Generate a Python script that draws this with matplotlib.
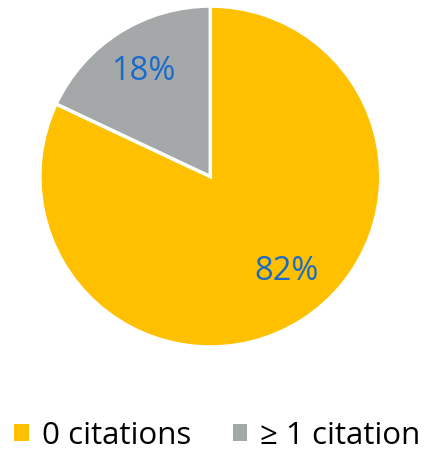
import matplotlib.pyplot as plt
from matplotlib.patches import Patch

labels = ["0 citations", "\u2265 1 citation"]
shares = [82, 18]
colors = ["#FFC000", "#A5A8A8"]
label_color = "#1A6BC9"

plt.rcParams["font.family"] = ["Open Sans", "DejaVu Sans"]

fig = plt.figure(figsize=(4.24, 4.51), dpi=100)
ax = fig.add_axes([0.094, 0.2306, 0.804, 0.756])

wedges, texts, autotexts = ax.pie(
    shares, colors=colors, startangle=90, counterclock=False,
    autopct="%d%%", pctdistance=0.73,
    wedgeprops=dict(edgecolor="white", linewidth=2.5),
    textprops=dict(color=label_color, fontsize=23.5),
)
# Excel nudges the big label a bit to the right
autotexts[0].set_position((0.45, -0.56))
ax.set_xlim(-1, 1)
ax.set_ylim(-1, 1)
ax.set_aspect("equal")

handles = [Patch(facecolor=c, edgecolor="none") for c in colors]
fig.legend(handles, labels, loc="center", bbox_to_anchor=(0.513, 0.034),
           ncol=2, frameon=False, fontsize=22.5, handlelength=0.45,
           handleheight=0.45, handletextpad=0.42, columnspacing=1.35,
           borderpad=0, borderaxespad=0)

fig.savefig("out.png", dpi=100)
